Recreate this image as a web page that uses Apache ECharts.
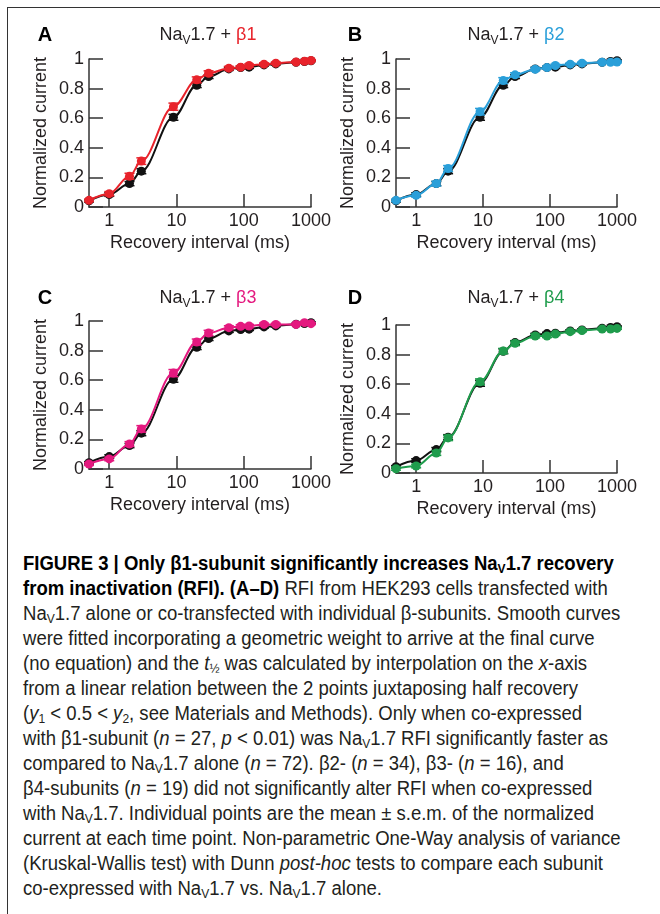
<!DOCTYPE html>
<html>
<head>
<meta charset="utf-8">
<script src="https://cdn.jsdelivr.net/npm/echarts@6/dist/echarts.min.js"></script>
<style>
  html, body { margin: 0; padding: 0; background: #fff; }
  .page { position: relative; width: 660px; height: 914px; overflow: hidden; }
  .frame { position: absolute; left: 7px; top: 7px; right: -20px; bottom: -20px; border-top: 1px solid #333; border-left: 1px solid #333; }
  #main { position: absolute; left: 0; top: 0; width: 660px; height: 540px; }
  .caption {
    position: absolute; left: 23px; top: 551px; width: 700px;
    font-family: "Liberation Sans", Arial, sans-serif;
    font-size: 19.5px; line-height: 25px; color: #231f20; white-space: nowrap;
    transform: scaleX(0.95); transform-origin: 0 0;
  }
  .caption b { color: #000; }
  .caption sub { font-size: 65%; vertical-align: -3px; line-height: 0; }
</style>
</head>
<body>
<div class="page">
  <div class="frame"></div>
  <div id="main"></div>
  <div class="caption">
    <b>FIGURE 3 | Only β1-subunit significantly increases Na<sub>V</sub>1.7 recovery</b><br>
    <b>from inactivation (RFI). (A–D)</b> RFI from HEK293 cells transfected with<br>
    Na<sub>V</sub>1.7 alone or co-transfected with individual β-subunits. Smooth curves<br>
    were fitted incorporating a geometric weight to arrive at the final curve<br>
    (no equation) and the <i>t</i><sub>½</sub> was calculated by interpolation on the <i>x</i>-axis<br>
    from a linear relation between the 2 points juxtaposing half recovery<br>
    (<i>y</i><sub>1</sub> &lt; 0.5 &lt; <i>y</i><sub>2</sub>, see Materials and Methods). Only when co-expressed<br>
    with β1-subunit (<i>n</i> = 27, <i>p</i> &lt; 0.01) was Na<sub>V</sub>1.7 RFI significantly faster as<br>
    compared to Na<sub>V</sub>1.7 alone (<i>n</i> = 72). β2- (<i>n</i> = 34), β3- (<i>n</i> = 16), and<br>
    β4-subunits (<i>n</i> = 19) did not significantly alter RFI when co-expressed<br>
    with Na<sub>V</sub>1.7. Individual points are the mean ± s.e.m. of the normalized<br>
    current at each time point. Non-parametric One-Way analysis of variance<br>
    (Kruskal-Wallis test) with Dunn <i>post-hoc</i> tests to compare each subunit<br>
    co-expressed with Na<sub>V</sub>1.7 vs. Na<sub>V</sub>1.7 alone.
  </div>
</div>
<script>
// recovery intervals (ms)
const times = [0.5, 1, 2, 3, 9, 20, 30, 60, 90, 120, 200, 300, 600, 800, 1000];
const xTicks = [1, 10, 100, 1000];

// Nav1.7 alone (black, same in every panel)
const alone = [0.042, 0.084, 0.158, 0.242, 0.606, 0.823, 0.881, 0.933, 0.942, 0.945, 0.96, 0.967, 0.978, 0.983, 0.988];
const aloneErr = [0.008, 0.012, 0.014, 0.017, 0.02, 0.016, 0.013, 0.01, 0.009, 0.009, 0.008, 0.007, 0.006, 0.005, 0.005];

const beta1 = [0.045, 0.09, 0.208, 0.31, 0.678, 0.859, 0.904, 0.938, 0.945, 0.956, 0.965, 0.972, 0.98, 0.985, 0.99];
const beta1Err = [0.008, 0.014, 0.02, 0.022, 0.024, 0.02, 0.016, 0.012, 0.01, 0.01, 0.009, 0.008, 0.007, 0.006, 0.006];
const beta2 = [0.045, 0.079, 0.158, 0.26, 0.644, 0.854, 0.893, 0.931, 0.942, 0.956, 0.965, 0.972, 0.978, 0.978, 0.98];
const beta2Err = [0.008, 0.012, 0.016, 0.02, 0.022, 0.02, 0.014, 0.011, 0.01, 0.009, 0.008, 0.007, 0.006, 0.006, 0.006];
const beta3 = [0.034, 0.068, 0.169, 0.271, 0.648, 0.858, 0.919, 0.955, 0.964, 0.966, 0.977, 0.977, 0.977, 0.989, 0.982];
const beta3Err = [0.01, 0.012, 0.016, 0.022, 0.024, 0.02, 0.018, 0.013, 0.011, 0.011, 0.009, 0.008, 0.007, 0.007, 0.006];
const beta4 = [0.029, 0.047, 0.135, 0.237, 0.616, 0.824, 0.876, 0.926, 0.926, 0.939, 0.955, 0.962, 0.973, 0.973, 0.977];
const beta4Err = [0.01, 0.012, 0.016, 0.018, 0.02, 0.018, 0.015, 0.013, 0.011, 0.01, 0.009, 0.008, 0.007, 0.007, 0.006];

const panels = [
  { letter: 'A', sub: 'β1', color: '#e8232b', vals: beta1, err: beta1Err, grid: { left: 89, top: 59, width: 222, height: 148 }, tx: 208, ty: 35, lx: 45 },
  { letter: 'B', sub: 'β2', color: '#2a9fd9', vals: beta2, err: beta2Err, grid: { left: 396, top: 59, width: 221, height: 148 }, tx: 516, ty: 35, lx: 355 },
  { letter: 'C', sub: 'β3', color: '#e4197f', vals: beta3, err: beta3Err, grid: { left: 89, top: 321, width: 222, height: 148 }, tx: 208, ty: 298, lx: 45 },
  { letter: 'D', sub: 'β4', color: '#1f9c4c', vals: beta4, err: beta4Err, grid: { left: 396, top: 325, width: 221, height: 148 }, tx: 516, ty: 298, lx: 355 }
];

const font = '"Liberation Sans", Arial, sans-serif';
const ink = '#231f20';

// error bars with caps
function errRender(color) {
  return function (params, api) {
    const x = api.value(0);
    const lo = api.coord([x, api.value(1)]);
    const hi = api.coord([x, api.value(2)]);
    const w = 5;
    const st = { stroke: color, lineWidth: 1.5 };
    return {
      type: 'group',
      children: [
        { type: 'line', shape: { x1: lo[0], y1: lo[1], x2: hi[0], y2: hi[1] }, style: st },
        { type: 'line', shape: { x1: lo[0] - w, y1: lo[1], x2: lo[0] + w, y2: lo[1] }, style: st },
        { type: 'line', shape: { x1: hi[0] - w, y1: hi[1], x2: hi[0] + w, y2: hi[1] }, style: st }
      ]
    };
  };
}

const grids = [], xAxes = [], yAxes = [], series = [], graphics = [];

panels.forEach((p, i) => {
  grids.push(p.grid);
  xAxes.push({
    type: 'log', gridIndex: i, min: 0.5, max: 1000,
    axisLine: { lineStyle: { color: '#333', width: 1.5 } },
    axisTick: { inside: true, length: 13, customValues: xTicks, lineStyle: { color: '#333', width: 1.5 } },
    axisLabel: { customValues: xTicks, color: ink, fontFamily: font, fontSize: 18, margin: 5,
      formatter: v => String(Math.round(v)) },
    minorTick: { show: false }, splitLine: { show: false },
    name: 'Recovery interval (ms)', nameLocation: 'middle', nameGap: 27,
    nameTextStyle: { color: ink, fontFamily: font, fontSize: 18 }
  });
  yAxes.push({
    type: 'value', gridIndex: i, min: 0, max: 1, interval: 0.2,
    axisLine: { show: true, lineStyle: { color: '#333', width: 1.5 } },
    axisTick: { show: true, inside: true, length: 14, lineStyle: { color: '#333', width: 1.5 } },
    axisLabel: { color: ink, fontFamily: font, fontSize: 18, margin: 5 },
    splitLine: { show: false },
    name: 'Normalized current', nameLocation: 'middle', nameGap: 39,
    nameTextStyle: { color: ink, fontFamily: font, fontSize: 18 }
  });

  const groups = [
    { name: 'Nav1.7', color: '#111', vals: alone, err: aloneErr, z: 2 },
    { name: 'Nav1.7 + ' + p.sub, color: p.color, vals: p.vals, err: p.err, z: 4 }
  ];
  groups.forEach(g => {
    series.push({
      type: 'custom', name: g.name + ' s.e.m.', xAxisIndex: i, yAxisIndex: i, z: g.z,
      renderItem: errRender(g.color),
      encode: { x: 0, y: [1, 2] },
      data: times.map((t, k) => [t, g.vals[k] - g.err[k], g.vals[k] + g.err[k]])
    });
    series.push({
      type: 'line', name: g.name, xAxisIndex: i, yAxisIndex: i, z: g.z + 1,
      smooth: 0.35, smoothMonotone: 'x',
      symbol: 'circle', symbolSize: 9,
      itemStyle: { color: g.color },
      lineStyle: { color: g.color, width: 2 },
      data: times.map((t, k) => [t, g.vals[k]])
    });
  });

  graphics.push({
    type: 'text', x: p.lx, y: p.ty,
    style: { text: p.letter, font: 'bold 20px ' + font, fill: '#000', align: 'center', verticalAlign: 'middle' }
  });
  graphics.push({
    type: 'text', x: p.tx, y: p.ty,
    style: {
      text: 'Na{s|V}1.7 + {c|' + p.sub + '}',
      align: 'center', verticalAlign: 'middle',
      font: '18px ' + font, fill: ink,
      rich: {
        s: { fontSize: 12, fontFamily: font, fill: ink, padding: [12, 0, 0, 0] },
        c: { fontSize: 18, fontFamily: font, fill: p.color }
      }
    }
  });
});

const chart = echarts.init(document.getElementById('main'));
chart.setOption({
  animation: false,
  backgroundColor: 'transparent',
  grid: grids,
  xAxis: xAxes,
  yAxis: yAxes,
  series: series,
  graphic: graphics
});
</script>
</body>
</html>
